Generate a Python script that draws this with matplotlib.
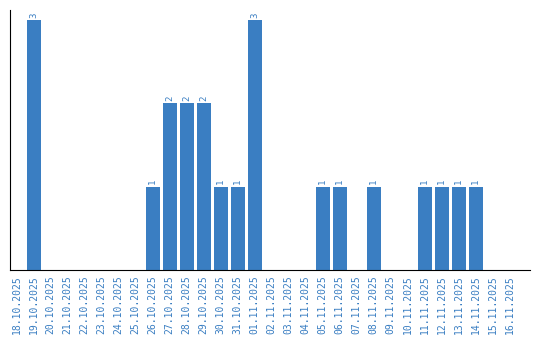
import matplotlib
matplotlib.use("Agg")
import matplotlib.pyplot as plt
import numpy as np

dates = ["18.10.2025", "19.10.2025", "20.10.2025", "21.10.2025", "22.10.2025",
         "23.10.2025", "24.10.2025", "25.10.2025", "26.10.2025", "27.10.2025",
         "28.10.2025", "29.10.2025", "30.10.2025", "31.10.2025", "01.11.2025",
         "02.11.2025", "03.11.2025", "04.11.2025", "05.11.2025", "06.11.2025",
         "07.11.2025", "08.11.2025", "09.11.2025", "10.11.2025", "11.11.2025",
         "12.11.2025", "13.11.2025", "14.11.2025", "15.11.2025", "16.11.2025"]
counts = [0, 3, 0, 0, 0, 0, 0, 0, 1, 2, 2, 2, 1, 1, 3,
          0, 0, 0, 1, 1, 0, 1, 0, 0, 1, 1, 1, 1, 0, 0]

blue = "#3a7ec2"

fig = plt.figure(figsize=(5.4, 3.4), dpi=100)
ax = fig.add_axes([10 / 540, 70 / 340, 520 / 540, 260 / 340])

x = np.arange(len(dates))
bars = ax.bar(x, counts, width=0.82, color=blue)

for xi, c in zip(x, counts):
    if c > 0:
        ax.text(xi, c + 0.03, str(c), rotation=90, ha="center", va="bottom",
                color=blue, fontsize=6.5, family="DejaVu Sans Mono")

ax.set_xlim(-0.4, 30.2)
ax.set_ylim(0, 3.12)
ax.set_xticks(x)
ax.set_xticklabels(dates, rotation=90, color=blue, fontsize=7,
                   family="DejaVu Sans Mono")
ax.tick_params(axis="x", length=0, pad=4)
ax.set_yticks([])
ax.spines["top"].set_visible(False)
ax.spines["right"].set_visible(False)

fig.savefig("out.png", dpi=100)
